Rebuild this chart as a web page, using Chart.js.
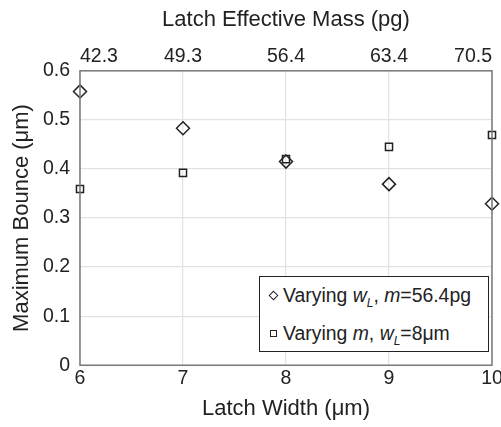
<!DOCTYPE html>
<html>
<head>
<meta charset="utf-8">
<script src="https://cdn.jsdelivr.net/npm/chart.js@4/dist/chart.umd.min.js"></script>
<style>
	html, body { margin: 0; padding: 0; background: #fff; }
	#wrap { position: relative; width: 501px; height: 427px; }
	#legend {
		position: absolute;
		border: 1.5px solid #222;
		background: #fff;
		font-family: "Liberation Sans", Arial, sans-serif;
		font-size: 19.4px;
		color: #222;
		padding: 0 7px;
		box-sizing: border-box;
	}
	#legend .row { height: 37px; line-height: 37px; white-space: nowrap; }
	#legend .row + .row { height: 39px; line-height: 39px; }
	#legend .mk { display: inline-block; width: 5px; height: 5px; border: 1.3px solid #222; margin: 0 6px 3px 3px; vertical-align: middle; }
	#legend .dia { transform: rotate(45deg); }
	#legend sub { font-size: 12px; }
</style>
</head>
<body>
<div id="wrap">
	<canvas id="bounceChart" width="501" height="427"></canvas>
	<div id="legend">
		<div class="row"><span class="mk dia"></span>Varying <i>w<sub>L</sub></i>, <i>m</i>=56.4pg</div>
		<div class="row"><span class="mk"></span>Varying <i>m</i>, <i>w<sub>L</sub></i>=8μm</div>
	</div>
</div>
<script>
const latchWidths = [6, 7, 8, 9, 10];
const massLabels = ['42.3', '49.3', '56.4', '63.4', '70.5'];
const bounceVaryWidth = [0.558, 0.483, 0.415, 0.369, 0.329];
const bounceVaryMass = [0.359, 0.392, 0.420, 0.445, 0.469];

const FONT = '"Liberation Sans", Arial, sans-serif';
const INK = '#222';

const frame = {
	id: 'frame',
	afterDatasetsDraw(chart) {
		const {ctx, chartArea: a} = chart;
		ctx.save();
		ctx.strokeStyle = '#7a7a7a';
		ctx.lineWidth = 1.5;
		ctx.strokeRect(a.left, a.top, a.right - a.left, a.bottom - a.top);
		ctx.restore();
	}
};

const noSidePad = (scale) => { scale.paddingLeft = 0; scale.paddingRight = 0; };

const toPoints = (ys) => latchWidths.map((x, i) => ({x: x, y: ys[i]}));

const chart = new Chart(document.getElementById('bounceChart'), {
	type: 'scatter',
	data: {
		datasets: [{
			label: 'Varying wL, m=56.4pg',
			data: toPoints(bounceVaryWidth),
			pointStyle: 'rectRot',
			pointRadius: 6.5,
			pointBorderWidth: 1.5,
			borderColor: INK,
			backgroundColor: 'rgba(0,0,0,0)',
			clip: false
		}, {
			label: 'Varying m, wL=8μm',
			data: toPoints(bounceVaryMass),
			pointStyle: 'rect',
			pointRadius: 5,
			pointBorderWidth: 1.5,
			borderColor: INK,
			backgroundColor: 'rgba(0,0,0,0)',
			clip: false
		}]
	},
	options: {
		responsive: false,
		animation: false,
		layout: {padding: {left: 6, right: 9, top: 7, bottom: 5}},
		plugins: {legend: {display: false}, tooltip: {enabled: false}},
		scales: {
			x: {
				type: 'linear', position: 'bottom', min: 6, max: 10,
				afterFit: noSidePad,
				grid: {color: '#e2e2e2', lineWidth: 1.2, drawTicks: false},
				border: {display: false},
				ticks: {stepSize: 1, color: INK, font: {family: FONT, size: 19.5}, padding: 2},
				title: {display: true, text: 'Latch Width (μm)', color: INK, font: {family: FONT, size: 22}, padding: {top: 3, bottom: 0}}
			},
			x2: {
				type: 'linear', position: 'top', min: 6, max: 10,
				afterFit: noSidePad,
				grid: {display: false, drawTicks: false},
				border: {display: false},
				ticks: {
					stepSize: 1, color: INK, font: {family: FONT, size: 19.5}, padding: 2, align: 'inner',
					callback: (v) => massLabels[latchWidths.indexOf(v)]
				},
				title: {display: true, text: 'Latch Effective Mass (pg)', color: INK, font: {family: FONT, size: 22}, padding: {top: 0, bottom: 10}}
			},
			y: {
				min: 0, max: 0.6,
				afterFit: (scale) => { scale.width = 74; },
				grid: {color: '#e2e2e2', lineWidth: 1.2, drawTicks: false},
				border: {display: false},
				ticks: {stepSize: 0.1, color: INK, font: {family: FONT, size: 19.5}, padding: 10,
					callback: (v) => v === 0 ? '0' : v.toFixed(1)},
				title: {display: true, text: 'Maximum Bounce (μm)', color: INK, font: {family: FONT, size: 22}, padding: {top: 3, bottom: 0}}
			}
		}
	},
	plugins: [frame]
});

const a = chart.chartArea;
const legend = document.getElementById('legend');
legend.style.left = (a.left + 179) + 'px';
legend.style.top = (a.bottom - 89) + 'px';
legend.style.width = (a.right - a.left - 182) + 'px';
legend.style.height = '76px';
</script>
</body>
</html>
